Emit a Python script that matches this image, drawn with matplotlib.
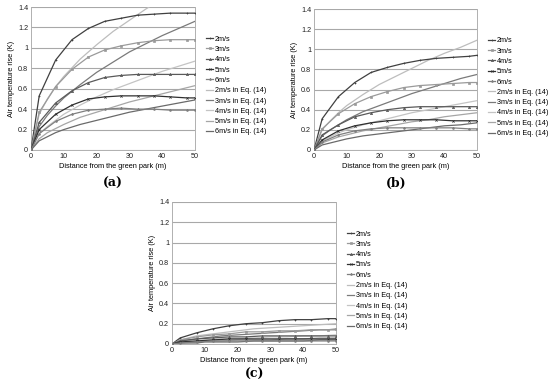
import matplotlib
matplotlib.use("Agg")
import matplotlib.pyplot as plt

# ---- data ----
x_sim = [0, 2.5, 7.5, 12.5, 17.5, 22.5, 27.5, 32.5, 37.5, 42.5, 47.5, 50]
x_eq = [0, 2.5, 5, 7.5, 10, 15, 20, 25, 30, 35, 40, 45, 50]
speeds = ["2m/s", "3m/s", "4m/s", "5m/s", "6m/s"]

sim_a = [
    [0, 0.53, 0.88, 1.08, 1.19, 1.26, 1.29, 1.32, 1.33, 1.34, 1.34, 1.34],
    [0, 0.37, 0.62, 0.79, 0.91, 0.98, 1.02, 1.05, 1.07, 1.08, 1.08, 1.08],
    [0, 0.27, 0.46, 0.58, 0.66, 0.71, 0.73, 0.74, 0.74, 0.74, 0.74, 0.74],
    [0, 0.20, 0.35, 0.44, 0.50, 0.52, 0.53, 0.53, 0.53, 0.52, 0.51, 0.51],
    [0, 0.16, 0.28, 0.35, 0.39, 0.40, 0.41, 0.40, 0.40, 0.39, 0.39, 0.39],
]
eq_a = [
    [0, 0.35, 0.50, 0.62, 0.72, 0.89, 1.03, 1.16, 1.27, 1.38, 1.48, 1.57, 1.66],
    [0, 0.23, 0.34, 0.43, 0.51, 0.64, 0.76, 0.86, 0.96, 1.04, 1.12, 1.19, 1.26],
    [0, 0.16, 0.23, 0.29, 0.35, 0.44, 0.52, 0.59, 0.65, 0.71, 0.77, 0.82, 0.87],
    [0, 0.11, 0.17, 0.21, 0.25, 0.32, 0.37, 0.42, 0.47, 0.51, 0.55, 0.59, 0.63],
    [0, 0.09, 0.13, 0.17, 0.20, 0.25, 0.29, 0.33, 0.37, 0.40, 0.43, 0.46, 0.49],
]
sim_b = [
    [0, 0.31, 0.53, 0.67, 0.77, 0.82, 0.86, 0.89, 0.91, 0.92, 0.93, 0.94],
    [0, 0.21, 0.36, 0.46, 0.53, 0.58, 0.62, 0.64, 0.65, 0.66, 0.67, 0.67],
    [0, 0.15, 0.25, 0.33, 0.37, 0.40, 0.42, 0.43, 0.43, 0.43, 0.43, 0.43],
    [0, 0.10, 0.19, 0.24, 0.27, 0.29, 0.30, 0.30, 0.30, 0.29, 0.29, 0.29],
    [0, 0.08, 0.15, 0.19, 0.21, 0.22, 0.22, 0.22, 0.22, 0.22, 0.21, 0.21],
]
eq_b = [
    [0, 0.20, 0.29, 0.37, 0.44, 0.55, 0.65, 0.73, 0.81, 0.89, 0.96, 1.02, 1.09],
    [0, 0.14, 0.20, 0.25, 0.30, 0.38, 0.44, 0.50, 0.56, 0.61, 0.66, 0.71, 0.75],
    [0, 0.09, 0.13, 0.17, 0.20, 0.25, 0.29, 0.33, 0.37, 0.40, 0.43, 0.46, 0.49],
    [0, 0.07, 0.10, 0.13, 0.15, 0.19, 0.22, 0.25, 0.28, 0.30, 0.33, 0.35, 0.37],
    [0, 0.05, 0.07, 0.09, 0.11, 0.14, 0.16, 0.18, 0.20, 0.22, 0.24, 0.25, 0.27],
]
sim_c = [
    [0, 0.06, 0.11, 0.15, 0.18, 0.20, 0.21, 0.23, 0.24, 0.24, 0.25, 0.25],
    [0, 0.04, 0.07, 0.09, 0.10, 0.12, 0.12, 0.13, 0.13, 0.14, 0.14, 0.15],
    [0, 0.03, 0.05, 0.06, 0.07, 0.07, 0.08, 0.08, 0.08, 0.08, 0.08, 0.08],
    [0, 0.02, 0.03, 0.04, 0.05, 0.05, 0.05, 0.05, 0.05, 0.05, 0.05, 0.05],
    [0, 0.01, 0.02, 0.03, 0.03, 0.03, 0.03, 0.03, 0.03, 0.03, 0.03, 0.03],
]
eq_c = [
    [0, 0.04, 0.06, 0.08, 0.09, 0.11, 0.13, 0.15, 0.16, 0.17, 0.18, 0.19, 0.20],
    [0, 0.03, 0.04, 0.05, 0.06, 0.08, 0.09, 0.10, 0.11, 0.12, 0.13, 0.14, 0.14],
    [0, 0.02, 0.03, 0.03, 0.04, 0.05, 0.05, 0.06, 0.07, 0.07, 0.08, 0.08, 0.09],
    [0, 0.01, 0.02, 0.02, 0.03, 0.03, 0.04, 0.04, 0.04, 0.05, 0.05, 0.06, 0.06],
    [0, 0.01, 0.01, 0.01, 0.02, 0.02, 0.02, 0.03, 0.03, 0.03, 0.03, 0.04, 0.04],
]
y_ticks = [0, 0.2, 0.4, 0.6, 0.8, 1.0, 1.2, 1.4]
y_tick_labels = ["0", "0.2", "0.4", "0.6", "0.8", "1", "1.2", "1.4"]
x_ticks = [0, 10, 20, 30, 40, 50]

# ---- styles ----
sim_colors = ["#404040", "#9a9a9a", "#5a5a5a", "#303030", "#7f7f7f"]
sim_markers = ["+", "s", "^", "x", "*"]
eq_colors = ["#bdbdbd", "#7a7a7a", "#c4c4c4", "#a6a6a6", "#6a6a6a"]

plt.rcParams["font.family"] = ["Liberation Sans", "DejaVu Sans"]

fig = plt.figure(figsize=(5.5, 3.92), dpi=100)

panels = [
    ("(a)", sim_a, eq_a, [31, 7, 195, 150], (113, 183)),
    ("(b)", sim_b, eq_b, [314, 9, 477, 150], (396, 183)),
    ("(c)", sim_c, eq_c, [172, 202, 336, 344], (255, 374)),
]
W, H = 550, 392
for label, sims, eqs, (x0, y0, x1, y1), (lx, ly) in panels:
    ax = fig.add_axes([x0 / W, 1 - y1 / H, (x1 - x0) / W, (y1 - y0) / H])
    for i in range(5):
        ax.plot(x_sim, sims[i], color=sim_colors[i], marker=sim_markers[i],
                markersize=1.6, markeredgewidth=0.5, linewidth=0.9,
                label=speeds[i], zorder=3, clip_on=True)
    for i in range(5):
        ax.plot(x_eq, eqs[i], color=eq_colors[i], linewidth=0.9,
                label=speeds[i] + " in Eq. (14)", zorder=2)
    ax.set_xlim(0, 50)
    ax.set_ylim(0, 1.4)
    ax.set_yticks(y_ticks)
    ax.set_yticklabels(y_tick_labels)
    ax.set_xticks(x_ticks)
    ax.yaxis.grid(True, color="#a8a8a8", linewidth=0.8)
    ax.set_axisbelow(True)
    ax.spines["top"].set_visible(False)
    for s in ["left", "bottom", "right"]:
        ax.spines[s].set_color("#b0b0b0")
        ax.spines[s].set_linewidth(0.7)
    ax.tick_params(axis="both", labelsize=5.2, length=0, pad=2, colors="#202020")
    ax.set_xlabel("Distance from the green park (m)", fontsize=5.3, labelpad=2)
    ax.set_ylabel("Air temperature rise (K)", fontsize=5.3, labelpad=2)
    ax.legend(loc="upper left", bbox_to_anchor=(1.05, 0.82), frameon=False,
              fontsize=5.2, handlelength=1.0, handletextpad=0.2,
              labelspacing=0.45, borderaxespad=0)
    fig.text(lx / W, 1 - ly / H, label, fontsize=9, family="DejaVu Serif",
             fontweight="bold", ha="center", va="center")

fig.savefig("out.png", dpi=100)
